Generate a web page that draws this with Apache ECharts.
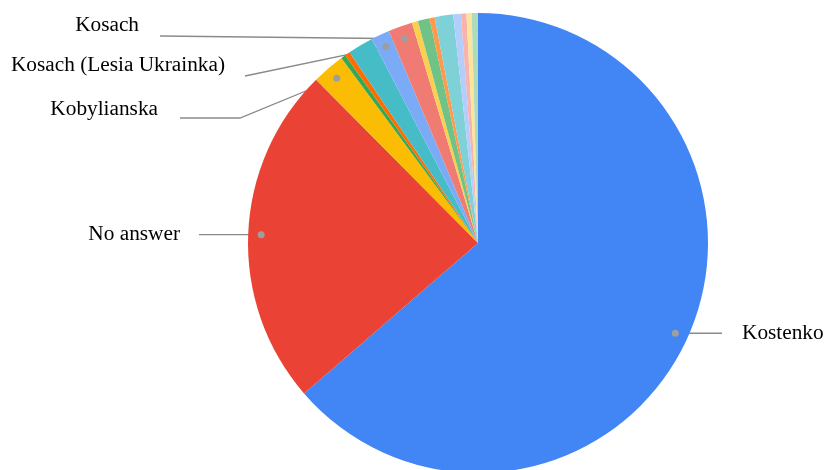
<!DOCTYPE html>
<html>
<head>
<meta charset="utf-8">
<script src="https://cdn.jsdelivr.net/npm/echarts@6/dist/echarts.min.js"></script>
<style>
  html, body { margin: 0; padding: 0; background: #ffffff; }
  #chart { width: 826px; height: 470px; }
</style>
</head>
<body>
<div id="chart"></div>
<script>
// Answers (share of responses, %)
const categories = [
  'Kostenko', 'No answer', 'Kobylianska', 'Other 1', 'Other 2', 'Other 3',
  'Kosach (Lesia Ukrainka)', 'Kosach', 'Other 4', 'Other 5', 'Other 6',
  'Other 7', 'Other 8', 'Other 9', 'Other 10', 'Other 11'
];
const shares = [
  63.6, 23.9, 2.3, 0.33, 0.36, 1.8,
  1.3, 1.7, 0.42, 0.83, 0.36,
  1.3, 0.53, 0.39, 0.36, 0.44
];
const palette = [
  '#4285F4', '#EA4335', '#FBBC04', '#34A853', '#FF6D01', '#46BDC6',
  '#7BAAF7', '#F07B72', '#FCD04F', '#71C287', '#FF994D',
  '#7ED1D7', '#B3CEFB', '#F7B4AE', '#FDE49B', '#AEDCBA'
];
// Slices that carry a callout label
const labelled = ['Kostenko', 'No answer', 'Kobylianska', 'Kosach (Lesia Ukrainka)', 'Kosach'];

// Geometry of the pie and its callouts
const CX = 478, CY = 243, R = 230, R_DOT = 217;
const callouts = {
  'Kostenko':                { side: 'right', lineTo: [[722, null]], textX: 742, textY: null },
  'No answer':               { side: 'left',  lineTo: [[199, null]], textX: 180, textY: null },
  'Kobylianska':             { side: 'left',  lineTo: [[240, 118], [180, 118]], textX: 158, textY: 109 },
  'Kosach (Lesia Ukrainka)': { side: 'left',  lineTo: [[245, 76]], textX: 225, textY: 65 },
  'Kosach':                  { side: 'left',  lineTo: [[160, 36]], textX: 139, textY: 25 }
};

const total = shares.reduce((a, b) => a + b, 0);
const midAngles = [];
let acc = 0;
shares.forEach(v => { midAngles.push((acc + v / 2) / total * Math.PI * 2); acc += v; });

function dotPoint(i) {
  const a = midAngles[i];
  return [CX + R_DOT * Math.sin(a), CY - R_DOT * Math.cos(a)];
}

const data = categories.map((name, i) => {
  const show = labelled.indexOf(name) >= 0;
  return {
    name: name,
    value: shares[i],
    itemStyle: { color: palette[i] },
    label: { show: show },
    labelLine: { show: show }
  };
});

const dots = [];
categories.forEach((name, i) => {
  if (labelled.indexOf(name) >= 0) {
    const p = dotPoint(i);
    dots.push({
      type: 'circle',
      shape: { cx: p[0], cy: p[1], r: 3.5 },
      style: { fill: '#9e9e9e' },
      z: 100
    });
  }
});

const chart = echarts.init(document.getElementById('chart'), null, { renderer: 'canvas' });
chart.setOption({
  animation: false,
  backgroundColor: '#ffffff',
  graphic: dots,
  series: [{
    type: 'pie',
    center: [CX, CY],
    radius: [0, R],
    startAngle: 90,
    clockwise: true,
    avoidLabelOverlap: false,
    silent: true,
    data: data,
    itemStyle: { borderWidth: 0 },
    label: {
      position: 'outside',
      formatter: '{b}',
      color: '#000000',
      fontFamily: '"Liberation Serif", "Times New Roman", serif',
      fontSize: 21.3
    },
    labelLine: {
      show: true,
      length: 10,
      length2: 10,
      lineStyle: { color: '#8a8a8a', width: 1.3 }
    },
    labelLayout: function (params) {
      const i = params.dataIndex;
      const spec = callouts[categories[i]];
      if (!spec) return {};
      const d = dotPoint(i);
      const pts = [d].concat(spec.lineTo.map(p => [p[0], p[1] == null ? d[1] : p[1]]));
      while (pts.length < 3) pts.push(pts[pts.length - 1].slice());
      return {
        x: spec.textX,
        y: spec.textY == null ? d[1] : spec.textY,
        align: spec.side === 'right' ? 'left' : 'right',
        verticalAlign: 'middle',
        labelLinePoints: pts
      };
    }
  }]
});
</script>
</body>
</html>
